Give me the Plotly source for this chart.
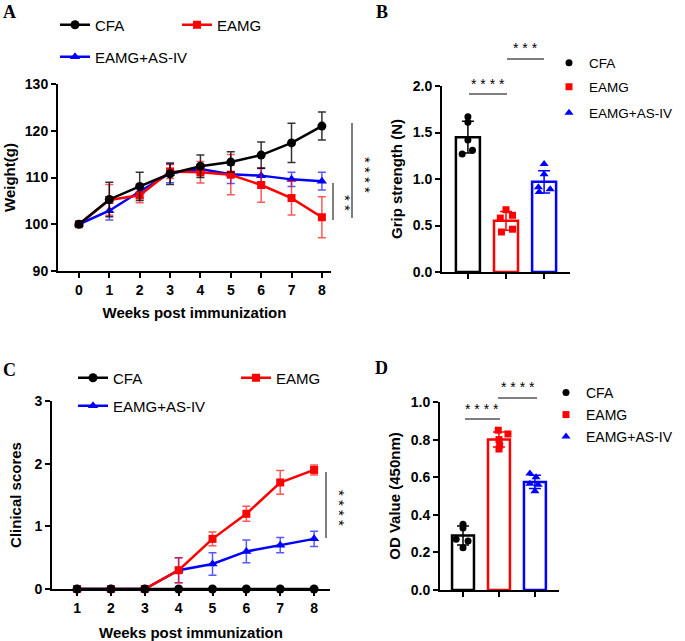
import plotly.graph_objects as go

# ---------------- data ----------------
weeks_a = [0, 1, 2, 3, 4, 5, 6, 7, 8]
cfa_weight = [100, 105.3, 108.1, 110.8, 112.4, 113.3, 114.8, 117.4, 121.0]
cfa_weight_sd = [0, 3.7, 3.0, 2.3, 2.4, 2.2, 2.8, 4.2, 3.0]
eamg_weight = [100, 105.2, 106.2, 111.3, 111.1, 110.6, 108.4, 105.6, 101.5]
eamg_weight_sd = [0, 3.3, 1.6, 1.5, 2.3, 4.3, 3.7, 3.6, 4.4]
asiv_weight = [100, 102.9, 107.0, 110.9, 111.8, 110.7, 110.4, 109.6, 109.2]
asiv_weight_sd = [0, 2.0, 1.5, 2.0, 1.0, 2.0, 1.5, 1.5, 1.9]

weeks_c = [1, 2, 3, 4, 5, 6, 7, 8]
cfa_score = [0, 0, 0, 0, 0, 0, 0, 0]
cfa_score_sd = [0, 0, 0, 0, 0, 0, 0, 0]
eamg_score = [0, 0, 0, 0.3, 0.8, 1.2, 1.7, 1.9]
eamg_score_sd = [0, 0, 0, 0.2, 0.11, 0.12, 0.19, 0.08]
asiv_score = [0, 0, 0, 0.3, 0.4, 0.6, 0.7, 0.8]
asiv_score_sd = [0, 0, 0, 0.2, 0.18, 0.18, 0.12, 0.12]

groups = ["CFA", "EAMG", "EAMG+AS-IV"]
grip_mean = [1.45, 0.55, 0.97]
grip_sd = [0.17, 0.10, 0.12]
grip_points = [
    [1.67, 1.61, 1.42, 1.27, 1.31],
    [0.67, 0.58, 0.61, 0.43, 0.46],
    [1.16, 1.05, 0.91, 0.86, 0.89],
]
od_mean = [0.29, 0.80, 0.575]
od_sd = [0.05, 0.04, 0.035]
od_points = [
    [0.35, 0.33, 0.27, 0.26, 0.225],
    [0.85, 0.83, 0.80, 0.77, 0.75],
    [0.62, 0.60, 0.565, 0.56, 0.525],
]

# ---------------- styling helpers ----------------
W, H = 685, 641
def px(x):
    return x / W
def py(y):
    return 1 - y / H

colors = ["#000000", "#ff0000", "#0000ff"]
err_colors = ["rgba(0,0,0,0.8)", "rgba(255,0,0,0.65)", "rgba(0,0,255,0.65)"]
line_symbols = ["circle", "square", "triangle-up"]
line_sizes = [9, 8, 9]
pt_sizes = [7, 7, 8]
grip_jitter = [[0, 0, 0, -0.15, 0.12], [0, -0.15, 0.17, -0.12, 0.17], [0, 0, -0.15, -0.13, 0.16]]
od_jitter = [[0, 0, -0.19, 0.14, 0], [-0.02, 0.25, 0, 0.02, 0], [-0.14, 0.03, -0.14, 0.09, 0]]

FONT = "Arial, Liberation Sans, sans-serif"
tickfont = dict(family=FONT, size=14, color="black", weight="bold")
titlefont = dict(family=FONT, size=15, color="black", weight="bold")

fig = go.Figure()

def lg(n):
    return "legend" if n == 1 else f"legend{n}"

# ---------------- Panel A ----------------
series_a = [(cfa_weight, cfa_weight_sd), (eamg_weight, eamg_weight_sd), (asiv_weight, asiv_weight_sd)]
for i in [2, 1, 0]:
    vals, sd = series_a[i]
    fig.add_trace(go.Scatter(
        x=weeks_a, y=vals, name=groups[i], mode="lines+markers",
        line=dict(color=colors[i], width=2.5),
        marker=dict(symbol=line_symbols[i], size=line_sizes[i], color=colors[i]),
        error_y=dict(type="data", array=sd, color=err_colors[i], thickness=1.5, width=4),
        cliponaxis=False, xaxis="x", yaxis="y", legend=lg(i + 1),
    ))

# ---------------- Panel C ----------------
series_c = [(cfa_score, cfa_score_sd), (eamg_score, eamg_score_sd), (asiv_score, asiv_score_sd)]
for i in [2, 1, 0]:
    vals, sd = series_c[i]
    fig.add_trace(go.Scatter(
        x=weeks_c, y=vals, name=groups[i], mode="lines+markers",
        line=dict(color=colors[i], width=2.5),
        marker=dict(symbol=line_symbols[i], size=line_sizes[i], color=colors[i]),
        error_y=dict(type="data", array=sd, color=err_colors[i], thickness=1.5, width=4),
        cliponaxis=False, xaxis="x3", yaxis="y3", legend=lg(i + 7),
    ))

# ---------------- Panels B & D (bars + points) ----------------
def bar_panel(means, sds, points, jitter, xa, ya, width, leg0):
    for i in range(3):
        fig.add_trace(go.Bar(
            x=[i], y=[means[i]], width=width, showlegend=False,
            marker=dict(color="rgba(255,255,255,0)", line=dict(color=colors[i], width=2.5)),
            error_y=dict(type="data", array=[sds[i]], color=colors[i], thickness=1.5, width=6),
            xaxis=xa, yaxis=ya, cliponaxis=False,
        ))
    for i in range(3):
        fig.add_trace(go.Scatter(
            x=[i + j for j in jitter[i]], y=points[i], mode="markers", name=groups[i],
            marker=dict(symbol=line_symbols[i], size=pt_sizes[i], color=colors[i]),
            xaxis=xa, yaxis=ya, cliponaxis=False, legend=lg(leg0 + i),
        ))

bar_panel(grip_mean, grip_sd, grip_points, grip_jitter, "x2", "y2", 0.63, 4)
bar_panel(od_mean, od_sd, od_points, od_jitter, "x4", "y4", 0.61, 10)

# ---------------- axes ----------------
def axis(domain, rng, tickvals, ticktext=None, title=None, standoff=None, fmt=None, anchor=None):
    d = dict(domain=domain, range=rng, tickmode="array", tickvals=tickvals,
             showline=True, linewidth=2, linecolor="black", mirror=False,
             ticks="outside", ticklen=5, tickwidth=2, tickcolor="black",
             showgrid=False, zeroline=False, tickfont=tickfont, anchor=anchor,
             fixedrange=True, automargin=False)
    if ticktext is not None:
        d["ticktext"] = ticktext
    if fmt:
        d["tickformat"] = fmt
    if title:
        d["title"] = dict(text=title, font=titlefont, standoff=standoff)
    return d

layout = dict(
    width=W, height=H, margin=dict(l=0, r=0, t=0, b=0, pad=0, autoexpand=False),
    paper_bgcolor="white", plot_bgcolor="white", barmode="overlay",
    xaxis=axis([px(58), px(331)], [-0.69, 8.3], weeks_a, title="Weeks post immunization", standoff=11, anchor="y"),
    yaxis=axis([py(271), py(84)], [90, 130], [90, 100, 110, 120, 130], title="Weight(g)", standoff=6, anchor="x"),
    xaxis2=axis([px(442), px(570)], [-0.68, 2.68], [0, 1, 2], ["", "", ""], anchor="y2"),
    yaxis2=axis([py(272), py(86)], [0, 2], [0, 0.5, 1.0, 1.5, 2.0], title="Grip strength (N)", standoff=6, fmt=".1f", anchor="x2"),
    xaxis3=axis([px(52), px(330)], [0.26, 8.47], weeks_c, title="Weeks post immunization", standoff=13, anchor="y3"),
    yaxis3=axis([py(589), py(401)], [0, 3], [0, 1, 2, 3], title="Clinical scores", standoff=9, anchor="x3"),
    xaxis4=axis([px(440), px(559)], [-0.64, 2.67], [0, 1, 2], ["", "", ""], anchor="y4"),
    yaxis4=axis([py(590), py(402)], [0, 1], [0, 0.2, 0.4, 0.6, 0.8, 1.0], title="OD Value (450nm)", standoff=6, fmt=".1f", anchor="x4"),
    showlegend=True,
)

# legend positions: (legend left x, item centre y, font size) in pixels
leg_pos = {
    1: (55, 25, 15), 2: (177, 25, 15), 3: (55, 57, 15),
    4: (549, 63, 13.5), 5: (549, 87, 13.5), 6: (549, 113, 13.5),
    7: (73, 378, 15), 8: (236, 378, 15), 9: (73, 406, 15),
    10: (546, 393, 14), 11: (546, 415, 14), 12: (546, 437, 14),
}
for n, (lx, ly, fs) in leg_pos.items():
    layout[lg(n)] = dict(x=px(lx), y=py(ly), xanchor="left", yanchor="middle",
                         bgcolor="rgba(0,0,0,0)", borderwidth=0,
                         font=dict(family=FONT, size=fs, color="black"))

fig.update_layout(**layout)

# ---------------- panel letters ----------------
for letter, x, y in [("A", 9, 12), ("B", 382, 12), ("C", 9, 370), ("D", 381, 368)]:
    fig.add_annotation(text=letter, x=px(x), y=py(y), xref="paper", yref="paper",
                       showarrow=False, xanchor="center", yanchor="middle",
                       font=dict(family="Times New Roman, Liberation Serif, serif", size=18, color="black", weight="bold"))

# ---------------- significance marks ----------------
sig_line = dict(color="#555555", width=1.5)
def hline(x0, x1, y):
    fig.add_shape(type="line", xref="paper", yref="paper", x0=px(x0), x1=px(x1), y0=py(y), y1=py(y), line=sig_line)
def vline(x, y0, y1):
    fig.add_shape(type="line", xref="paper", yref="paper", x0=px(x), x1=px(x), y0=py(y0), y1=py(y1), line=sig_line)
def stars(text, x, y, angle=0, size=14):
    fig.add_annotation(text=text, x=px(x), y=py(y), xref="paper", yref="paper", showarrow=False,
                       textangle=angle, xanchor="center", yanchor="middle",
                       font=dict(family=FONT, size=size, color="black"))

# A
vline(352, 123, 218); stars("* * * *", 365, 175, 90, 15)
vline(333, 183, 220); stars("* *", 346, 203, 90, 15)
# B
hline(469, 507, 94); stars("* * * *", 488, 84)
hline(507, 544, 59); stars("* * *", 525, 48)
# C
vline(326, 472, 538); stars("* * * *", 340, 508, 90, 15)
# D
hline(465, 500, 419); stars("* * * *", 482, 409)
hline(498, 537, 398); stars("* * * *", 518, 387)

fig.write_html("out.html", post_script="document.body.style.margin='0px';",
               config={"displayModeBar": False})
